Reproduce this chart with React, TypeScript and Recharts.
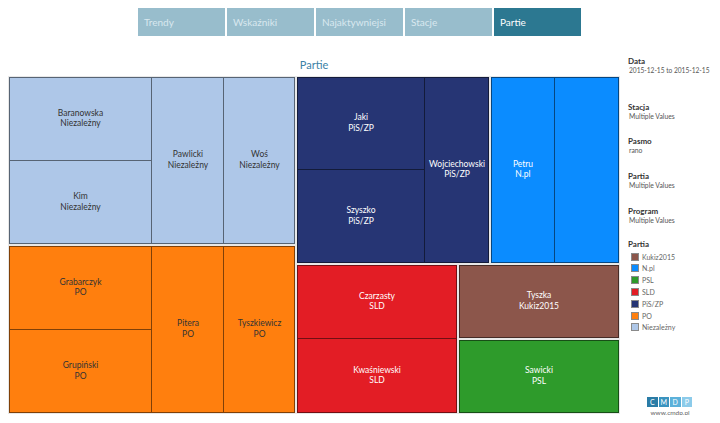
import React from 'react';
import { Treemap } from 'recharts';

// --- data ---
const PARTIES = ['Niezależny', 'PO', 'PiS/ZP', 'N.pl', 'SLD', 'Kukiz2015', 'PSL'];
const CANDIDATES = [
  ['Baranowska', 'Kim', 'Pawlicki', 'Woś'],
  ['Grabarczyk', 'Grupiński', 'Pitera', 'Tyszkiewicz'],
  ['Jaki', 'Szyszko', 'Wojciechowski'],
  ['Petru', 'Gasiuk-Pihowicz'],
  ['Czarzasty', 'Kwaśniewski'],
  ['Tyszka'],
  ['Sawicki'],
];
const APPEARANCES = [
  [1, 1, 1, 1],
  [1, 1, 1, 1],
  [1, 1, 1],
  [1, 1],
  [1, 1],
  [1],
  [1],
];
const LEGEND_PARTIES = ['Kukiz2015', 'N.pl', 'PSL', 'SLD', 'PiS/ZP', 'PO', 'Niezależny'];
const TABS = ['Trendy', 'Wskaźniki', 'Najaktywniejsi', 'Stacje', 'Partie'];
const FILTER_TITLES = ['Data', 'Stacja', 'Pasmo', 'Partia', 'Program'];
const FILTER_VALUES = ['2015-12-15 to 2015-12-15', 'Multiple Values', 'rano', 'Multiple Values', 'Multiple Values'];

const PARTY_COLORS: Record<string, string> = {
  'Niezależny': '#aec7e8',
  PO: '#ff7f0e',
  'PiS/ZP': '#263574',
  'N.pl': '#0b8cff',
  SLD: '#e31d25',
  Kukiz2015: '#8c564b',
  PSL: '#2e9b2b',
};
const DARK_TEXT = new Set(['Niezależny', 'PO']);

const FONT = 'Lato, "Open Sans", sans-serif';
const LABEL_SIZE = 8.5;

const treeData = PARTIES.map((p, i) => ({
  name: p,
  children: CANDIDATES[i].map((c, j) => ({ name: c, party: p, value: APPEARANCES[i][j] })),
}));

const darken = (hex: string, k: number) => {
  const n = parseInt(hex.slice(1), 16);
  const r = Math.round(((n >> 16) & 255) * k);
  const g = Math.round(((n >> 8) & 255) * k);
  const b = Math.round((n & 255) * k);
  return `rgb(${r},${g},${b})`;
};

let ctx: CanvasRenderingContext2D | null = null;
const textWidth = (t: string) => {
  if (!ctx) ctx = document.createElement('canvas').getContext('2d');
  if (!ctx) return t.length * 4;
  ctx.font = `${LABEL_SIZE}px ${FONT}`;
  return ctx.measureText(t).width;
};

// party rects get recorded as they are drawn (parents render before children)
const partyRects: Record<string, { x: number; y: number; width: number; height: number }> = {};

const renderCell = (props: any) => {
  const { x, y, width, height, depth, name, party } = props;
  if (depth === 0) return <g />;
  if (depth === 1) {
    partyRects[name] = { x, y, width, height };
    return <rect x={x} y={y} width={width} height={height} fill="#e8e8e8" />;
  }
  const pr = partyRects[party] || { x, y, width, height };
  const l = x === pr.x ? 1 : 0;
  const t = y === pr.y ? 1 : 0;
  const r = x + width === pr.x + pr.width ? 1 : 0;
  const b = y + height === pr.y + pr.height ? 1 : 0;
  const x0 = x + l;
  const x1 = x + width - r;
  const y0 = y + t;
  const y1 = y + height - b;
  const fill = PARTY_COLORS[party];
  const stroke = darken(fill, 0.5);
  let d = `M${x1 - 0.5},${y0} V${y1} M${x0},${y1 - 0.5} H${x1}`;
  if (l) d += ` M${x0 + 0.5},${y0} V${y1}`;
  if (t) d += ` M${x0},${y0 + 0.5} H${x1}`;
  const cx = (x0 + x1) / 2;
  const cy = (y0 + y1) / 2;
  // Tableau drops labels that don't fit their cell
  const showLabel = Math.max(textWidth(name), textWidth(party)) < x1 - x0 - 6;
  const color = DARK_TEXT.has(party) ? '#333333' : '#ffffff';
  return (
    <g>
      <rect x={x0} y={y0} width={x1 - x0} height={y1 - y0} fill={fill} />
      <path d={d} stroke={stroke} strokeWidth={1} fill="none" />
      {showLabel && (
        <text x={cx} textAnchor="middle" fill={color} fontSize={LABEL_SIZE} fontFamily={FONT}>
          <tspan x={cx} y={cy - 6.5} dominantBaseline="central">{name}</tspan>
          <tspan x={cx} y={cy + 4} dominantBaseline="central">{party}</tspan>
        </text>
      )}
    </g>
  );
};

const LOGO = ['C', 'M', 'D', 'P'];
const LOGO_COLORS = ['#2a7ca6', '#3a93bf', '#5cb1da', '#8ccbea'];

export default function App() {
  return (
    <div style={{ position: 'relative', width: 704, height: 407, fontFamily: FONT }}>
      {/* tabs */}
      <div style={{ position: 'absolute', left: 130, top: 0, display: 'flex', gap: 2 }}>
        {TABS.map((tab, i) => {
          const active = i === TABS.length - 1;
          return (
            <div
              key={tab}
              style={{
                width: 87,
                height: 28,
                background: active ? '#2c7891' : '#98bdcc',
                color: active ? '#ffffff' : '#d9e8ef',
                fontSize: 10,
                lineHeight: '28px',
                paddingLeft: 6,
                boxSizing: 'border-box',
              }}
            >
              {tab}
            </div>
          );
        })}
      </div>

      {/* title */}
      <div style={{ position: 'absolute', left: 256, width: 100, top: 50, textAlign: 'center', fontSize: 11, color: '#3c82a6' }}>
        Partie
      </div>

      {/* treemap */}
      <div style={{ position: 'absolute', left: 0, top: 68 }}>
        <Treemap
          width={612}
          height={338}
          data={treeData}
          dataKey="value"
          isAnimationActive={false}
          isUpdateAnimationActive={false}
          content={renderCell}
        />
      </div>

      {/* filters */}
      {FILTER_TITLES.map((title, i) => {
        const tops = [48, 94, 128, 163, 198];
        return (
          <div key={title + i} style={{ position: 'absolute', left: 620, top: tops[i], whiteSpace: 'nowrap' }}>
            <div style={{ fontSize: 8, fontWeight: 700, color: '#333', lineHeight: '10px' }}>{title}</div>
            <div style={{ fontSize: i === 0 ? 6.6 : 6.8, color: '#555', lineHeight: '9px', marginLeft: 1 }}>{FILTER_VALUES[i]}</div>
          </div>
        );
      })}

      {/* legend */}
      <div style={{ position: 'absolute', left: 620, top: 231, fontSize: 8, fontWeight: 700, color: '#333', lineHeight: '10px' }}>
        Partia
      </div>
      {LEGEND_PARTIES.map((p, i) => (
        <div key={p} style={{ position: 'absolute', left: 623, top: 244 + i * 11.8, display: 'flex', alignItems: 'center', height: 9 }}>
          <div style={{ width: 6, height: 6, background: PARTY_COLORS[p], border: '1px solid #8a8a8a' }} />
          <div style={{ marginLeft: 3, fontSize: 7, color: '#666' }}>{p}</div>
        </div>
      ))}

      {/* logo */}
      <div style={{ position: 'absolute', left: 639, top: 389, display: 'flex', gap: 1 }}>
        {LOGO.map((c, i) => (
          <div
            key={c}
            style={{ width: 10.5, height: 10, background: LOGO_COLORS[i], color: '#fff', fontSize: 7, lineHeight: '10px', textAlign: 'center' }}
          >
            {c}
          </div>
        ))}
      </div>
      <div style={{ position: 'absolute', left: 632, width: 60, top: 401, textAlign: 'center', fontSize: 6.5, color: '#666' }}>
        www.cmdp.pl
      </div>
    </div>
  );
}
